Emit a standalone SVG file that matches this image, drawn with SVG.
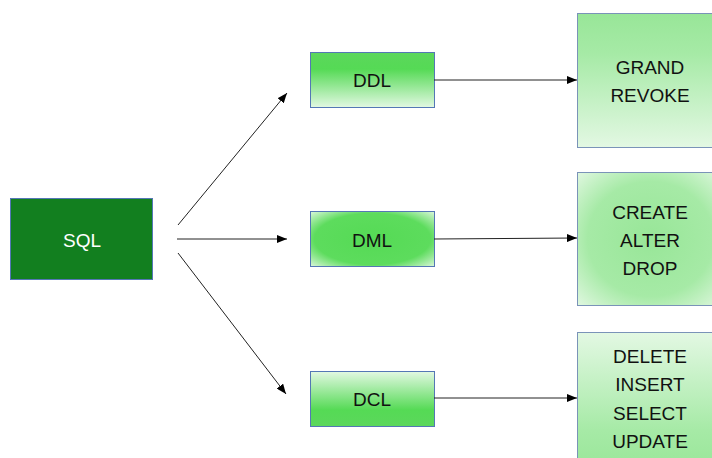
<svg xmlns="http://www.w3.org/2000/svg" width="712" height="458" viewBox="0 0 712 458">
<defs>
<linearGradient id="gDown" x1="0" y1="0" x2="0" y2="1">
<stop offset="0" stop-color="#5cd75c"/>
<stop offset="0.3" stop-color="#55da55"/>
<stop offset="1" stop-color="#e2f8e2"/>
</linearGradient>
<linearGradient id="gUp" x1="0" y1="0" x2="0" y2="1">
<stop offset="0" stop-color="#e2f8e2"/>
<stop offset="0.7" stop-color="#55da55"/>
<stop offset="1" stop-color="#5cd75c"/>
</linearGradient>
<radialGradient id="gRad" cx="0.5" cy="0.5" r="0.72">
<stop offset="0" stop-color="#55da55"/>
<stop offset="0.65" stop-color="#5ddc5d"/>
<stop offset="1" stop-color="#e2f8e2"/>
</radialGradient>
<linearGradient id="gDownL" x1="0" y1="0" x2="0" y2="1">
<stop offset="0" stop-color="#98e698"/>
<stop offset="0.3" stop-color="#a6eaa6"/>
<stop offset="1" stop-color="#e3f8e3"/>
</linearGradient>
<linearGradient id="gUpL" x1="0" y1="0" x2="0" y2="1">
<stop offset="0" stop-color="#e3f8e3"/>
<stop offset="0.7" stop-color="#a6eaa6"/>
<stop offset="1" stop-color="#98e698"/>
</linearGradient>
<radialGradient id="gRadL" cx="0.5" cy="0.5" r="0.72">
<stop offset="0" stop-color="#98e698"/>
<stop offset="0.6" stop-color="#a6eaa6"/>
<stop offset="1" stop-color="#e3f8e3"/>
</radialGradient>
<marker id="ah" viewBox="0 0 10 8" refX="10" refY="4" markerWidth="10" markerHeight="8" markerUnits="userSpaceOnUse" orient="auto">
<path d="M0,0 L10,4 L0,8 Z" fill="#000"/>
</marker>
</defs>
<style>
.box{stroke:#5477b5;stroke-width:1}
.rbox{stroke:#7a93b8;stroke-width:1}
text{font-family:"Liberation Sans",Arial,sans-serif;font-size:19px;text-anchor:middle;dominant-baseline:central;fill:#111}
.w{fill:#fff}
.conn line{stroke:#222;stroke-width:1;marker-end:url(#ah)}
</style>
<rect width="712" height="458" fill="#fff"/>
<g id="sql">
<rect class="box" x="10.5" y="198.5" width="142" height="81" fill="#127f1f"/>
<text class="w" x="82" y="240">SQL</text>
</g>
<g id="ddl">
<rect class="box" x="310.5" y="52.5" width="124" height="55" fill="url(#gDown)"/>
<text x="372" y="80">DDL</text>
</g>
<g id="dml">
<rect class="box" x="310.5" y="211.5" width="124" height="55" fill="url(#gRad)"/>
<text x="372" y="240">DML</text>
</g>
<g id="dcl">
<rect class="box" x="310.5" y="371.5" width="124" height="55" fill="url(#gUp)"/>
<text x="372" y="399">DCL</text>
</g>
<g id="grand">
<rect class="rbox" x="577.5" y="13.5" width="146" height="134" fill="url(#gDownL)"/>
<text x="650" y="67">GRAND</text>
<text x="650" y="95">REVOKE</text>
</g>
<g id="create">
<rect class="rbox" x="577.5" y="172.5" width="146" height="133" fill="url(#gRadL)"/>
<text x="650" y="212">CREATE</text>
<text x="650" y="240">ALTER</text>
<text x="650" y="268">DROP</text>
</g>
<g id="delete">
<rect class="rbox" x="577.5" y="332.5" width="146" height="140" fill="url(#gUpL)"/>
<text x="650" y="356">DELETE</text>
<text x="650" y="384">INSERT</text>
<text x="650" y="413">SELECT</text>
<text x="650" y="441">UPDATE</text>
</g>
<g class="conn">
<line x1="178" y1="225" x2="287" y2="93"/>
<line x1="177" y1="239" x2="287" y2="239"/>
<line x1="178" y1="253" x2="286" y2="394"/>
<line x1="434" y1="80" x2="577" y2="80"/>
<line x1="434" y1="239" x2="577" y2="238"/>
<line x1="434" y1="398" x2="577" y2="398"/>
</g>
</svg>
